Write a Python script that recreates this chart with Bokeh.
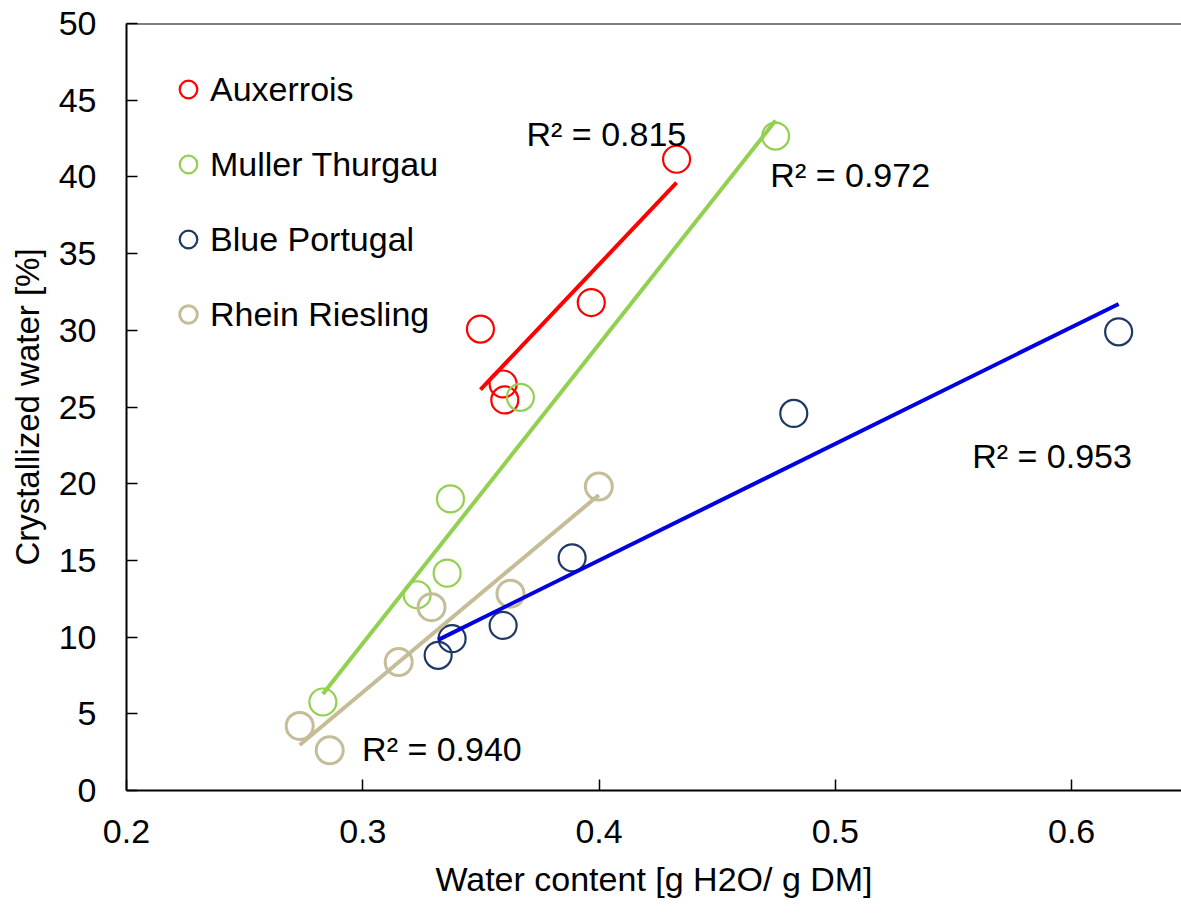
import numpy as np
from bokeh.plotting import figure
from bokeh.models import Range1d, FixedTicker, Label, Span
from bokeh.embed import file_html
from bokeh.resources import INLINE

# ---------------- data ----------------
series_names = ["Auxerrois", "Muller Thurgau", "Blue Portugal", "Rhein Riesling"]

aux_x = [0.3498, 0.3594, 0.3601, 0.3967, 0.4328]
aux_y = [30.08, 26.50, 25.46, 31.81, 41.15]

mt_x = [0.4747, 0.3667, 0.3371, 0.3357, 0.3230, 0.2831]
mt_y = [42.66, 25.63, 19.01, 14.17, 12.76, 5.77]

bp_x = [0.6199, 0.4824, 0.3886, 0.3594, 0.3378, 0.3319]
bp_y = [29.90, 24.58, 15.17, 10.76, 9.90, 8.81]

rr_x = [0.3999, 0.3625, 0.3291, 0.3152, 0.2733, 0.2860]
rr_y = [19.81, 12.83, 11.95, 8.37, 4.21, 2.62]

r2_texts = ["R\u00b2 = 0.815", "R\u00b2 = 0.972", "R\u00b2 = 0.953", "R\u00b2 = 0.940"]

x_ticks = [0.2, 0.3, 0.4, 0.5, 0.6]
x_tick_labels = ["0.2", "0.3", "0.4", "0.5", "0.6"]
y_ticks = [0, 5, 10, 15, 20, 25, 30, 35, 40, 45, 50]
y_tick_labels = [str(v) for v in y_ticks]

x_title = "Water content [g H2O/ g DM]"
y_title = "Crystallized water [%]"

# ---------------- styles ----------------
FONT = "Liberation Sans"
marker_colors = ["#FF0000", "#92D050", "#1F3864", "#C4BD97"]
line_colors = ["#FF0000", "#92D050", "#0000E0", "#C4BD97"]
marker_widths = [2.2, 2.2, 2.2, 3]
label_pos = [(0.3693, 42.77), (0.4725, 40.12), (0.5579, 21.83), (0.2997, 2.73)]

p = figure(width=1181, height=917, output_backend="svg", toolbar_location=None,
           x_range=Range1d(0.2, 0.6465), y_range=Range1d(0, 50),
           min_border_left=126, min_border_right=0, min_border_top=23,
           min_border_bottom=127)
p.outline_line_color = None
p.grid.visible = False
p.background_fill_color = "white"
p.border_fill_color = "white"

series = [(aux_x, aux_y), (mt_x, mt_y), (bp_x, bp_y), (rr_x, rr_y)]

for (xs, ys), name, mc, mw in zip(series, series_names, marker_colors, marker_widths):
    p.scatter(xs, ys, marker="circle", size=27, fill_color=None,
              line_color=mc, line_width=mw, legend_label=name)

for (xs, ys), lc in zip(series, line_colors):
    slope, icpt = np.polyfit(xs, ys, 1)
    lx = [min(xs), max(xs)]
    ly = [slope * v + icpt for v in lx]
    p.line(lx, ly, line_color=lc, line_width=4)

for txt, (lx, ly) in zip(r2_texts, label_pos):
    p.add_layout(Label(x=lx, y=ly, text=txt, text_font=FONT, text_font_size="34px",
                       text_color="black", text_align="left", text_baseline="alphabetic"))

p.add_layout(Span(location=50, dimension="width", line_color="black", line_width=2))

# axes
for ax in (p.xaxis[0], p.yaxis[0]):
    ax.axis_line_color = "black"
    ax.axis_line_width = 2
    ax.major_tick_line_color = "black"
    ax.major_tick_line_width = 1.5
    ax.major_tick_in = 11
    ax.major_tick_out = 0
    ax.minor_tick_line_color = None
    ax.major_label_text_font = FONT
    ax.major_label_text_font_size = "34px"
    ax.major_label_text_color = "black"
    ax.axis_label_text_font = FONT
    ax.axis_label_text_font_style = "normal"
    ax.axis_label_text_color = "black"

p.xaxis.ticker = FixedTicker(ticks=x_ticks)
p.xaxis.major_label_overrides = {t: l for t, l in zip(x_ticks, x_tick_labels)}
p.yaxis.ticker = FixedTicker(ticks=y_ticks)
p.yaxis.major_label_overrides = {t: l for t, l in zip(y_ticks, y_tick_labels)}
p.xaxis.axis_label = x_title
p.yaxis.axis_label = y_title
p.xaxis.axis_label_text_font_size = "34px"
p.yaxis.axis_label_text_font_size = "33px"
p.xaxis.major_label_standoff = 29
p.yaxis.major_label_standoff = 30
p.xaxis.axis_label_standoff = 14
p.yaxis.axis_label_standoff = 10

# legend
lg = p.legend[0]
lg.location = (40, 452)
lg.glyph_width = 44
lg.glyph_height = 48
lg.label_standoff = 0
lg.spacing = 27
lg.padding = 0
lg.margin = 0
lg.border_line_color = None
lg.background_fill_alpha = 0
lg.label_text_font = FONT
lg.label_text_font_size = "34px"
lg.label_text_color = "black"

open("out.html", "w").write(file_html(p, INLINE))
